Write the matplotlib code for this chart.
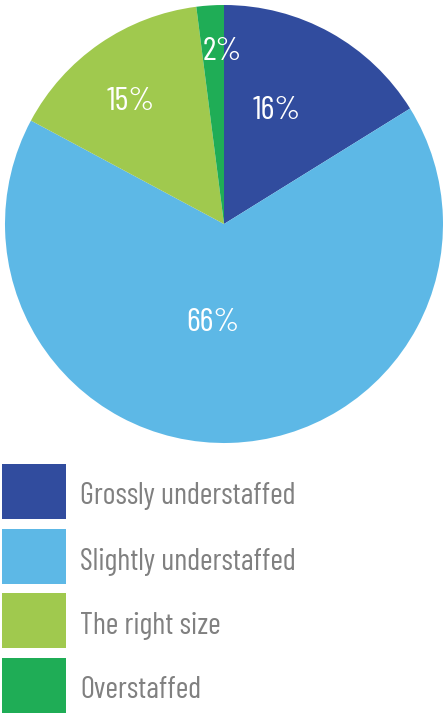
import matplotlib
matplotlib.use("Agg")
import matplotlib.pyplot as plt
from matplotlib.patches import Rectangle
import numpy as np

categories = ["Grossly understaffed", "Slightly understaffed", "The right size", "Overstaffed"]
values = [16, 66, 15, 2]
pct_labels = ["16%", "66%", "15%", "2%"]
colors = ["#314c9e", "#5db8e6", "#a0c94e", "#1fad56"]
label_r = [0.586, 0.437, 0.715, 0.80]   # how far out each % label sits
label_shift = [-4.7, 8.4, -2.0, 3.1]    # degrees, clockwise, off the wedge middle

plt.rcParams['font.family'] = ['Barlow Condensed', 'DejaVu Sans']

W, H = 443, 713
fig = plt.figure(figsize=(W / 100, H / 100), dpi=100)

# pie, 438px across, top-left at (5,5)
ax = fig.add_axes([5 / W, (H - 443) / H, 438 / W, 438 / H])
wedges, _ = ax.pie(values, colors=colors, startangle=90, counterclock=False,
                   radius=1.0, wedgeprops=dict(linewidth=0))
ax.set_xlim(-1, 1)
ax.set_ylim(-1, 1)
ax.set_aspect('equal')
ax.axis('off')

for w, lab, r, s in zip(wedges, pct_labels, label_r, label_shift):
    mid = np.deg2rad((w.theta1 + w.theta2) / 2 - s)
    ax.text(r * np.cos(mid), r * np.sin(mid), lab, color='white',
            fontsize=24, ha='center', va='center_baseline')

# legend drawn by hand in pixel coords
lax = fig.add_axes([0, 0, 1, 258 / H])
lax.set_xlim(0, W)
lax.set_ylim(H, 455)
lax.axis('off')
row_top = [464, 529, 593, 658]
for cat, c, y in zip(categories, colors, row_top):
    lax.add_patch(Rectangle((2, y), 64, 55, facecolor=c, edgecolor='none'))
    lax.text(80, y + 40.5, cat, color='#808080', fontsize=22, ha='left', va='baseline')

fig.savefig("out.png", dpi=100)
